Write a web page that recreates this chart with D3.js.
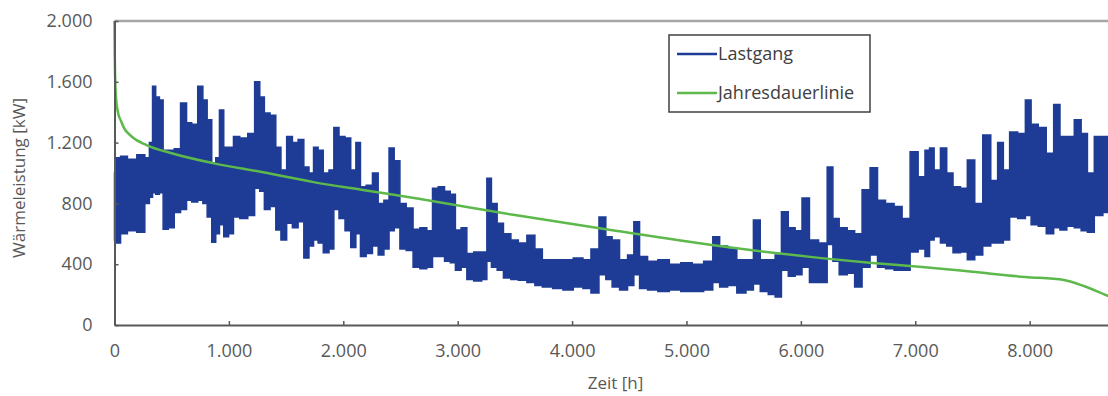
<!DOCTYPE html>
<meta charset="utf-8">
<script src="https://d3js.org/d3.v7.min.js"></script>
<style>
  body { margin: 0; background: #fff; }
  text { font-family: "Open Sans", sans-serif; fill: #595959; }
</style>
<div id="chart"></div>
<script>

// Lastgang: hour, upper and lower envelope (kW)
var lastHour = [0, 30, 76, 150, 240, 290, 320, 345, 375, 410, 440, 500, 545, 610, 650, 700, 755, 790, 830, 870,
  900, 935, 975, 1020, 1060, 1130, 1200, 1250, 1290, 1330, 1390, 1430, 1480, 1530, 1580, 1630, 1680, 1720, 1760, 1800,
  1850, 1900, 1935, 1990, 2040, 2090, 2130, 2170, 2230, 2280, 2330, 2380, 2420, 2470, 2520, 2580, 2640, 2700, 2760, 2800,
  2860, 2910, 2960, 3000, 3060, 3100, 3180, 3240, 3270, 3320, 3370, 3430, 3500, 3560, 3650, 3700, 3780, 3880, 3960, 4060,
  4130, 4200, 4270, 4320, 4380, 4450, 4520, 4560, 4620, 4700, 4800, 4900, 5000, 5100, 5200, 5260, 5320, 5400, 5480, 5560,
  5610, 5680, 5750, 5800, 5860, 5920, 5980, 6040, 6110, 6200, 6260, 6300, 6370, 6440, 6500, 6570, 6640, 6700, 6780, 6850,
  6920, 6990, 7060, 7110, 7140, 7190, 7250, 7300, 7360, 7430, 7480, 7560, 7620, 7700, 7740, 7800, 7850, 7940, 7985, 8040,
  8110, 8180, 8240, 8290, 8360, 8420, 8480, 8530, 8600, 8680, 8760];
var lastHigh = [1000, 1100, 1110, 1090, 1120, 1100, 1200, 1570, 1500, 1480, 1150, 1150, 1160, 1460, 1330, 1320, 1570, 1480, 1350, 1065,
  1100, 1415, 1170, 1170, 1240, 1230, 1260, 1600, 1500, 1395, 1380, 1170, 1020, 1240, 1200, 1220, 1040, 1000, 1170, 1150,
  1000, 1020, 1300, 1240, 1230, 1020, 1200, 910, 920, 1000, 800, 820, 1165, 1080, 800, 770, 630, 640, 620, 900,
  910, 880, 860, 625, 640, 470, 480, 480, 965, 800, 670, 600, 560, 540, 590, 500, 430, 430, 430, 440,
  430, 500, 710, 580, 560, 430, 460, 680, 450, 420, 430, 400, 410, 400, 420, 580, 520, 500, 430, 430,
  690, 430, 430, 460, 745, 640, 620, 835, 560, 540, 1040, 700, 640, 620, 600, 890, 1035, 820, 800, 780,
  700, 1140, 975, 1150, 1165, 1020, 1165, 1000, 910, 900, 1085, 800, 1250, 950, 1200, 1020, 1270, 1260, 1480, 1320,
  1300, 1130, 1450, 1240, 1240, 1350, 1260, 1000, 1240, 1240, 1200];
var lastLow = [560, 540, 600, 620, 610, 800, 840, 870, 860, 870, 630, 640, 740, 760, 820, 810, 820, 800, 710, 545,
  600, 660, 580, 600, 710, 700, 720, 900, 880, 760, 780, 625, 560, 670, 640, 680, 440, 520, 560, 540,
  475, 500, 760, 700, 620, 510, 600, 450, 470, 520, 460, 500, 620, 640, 500, 490, 380, 370, 380, 450,
  450, 420, 410, 360, 380, 300, 290, 300, 420, 380, 360, 310, 300, 295, 280, 260, 250, 240, 230, 250,
  240, 210, 330, 300, 250, 230, 260, 330, 240, 230, 220, 230, 220, 220, 230, 280, 250, 260, 210, 230,
  270, 220, 200, 185, 360, 320, 330, 380, 280, 280, 530, 420, 330, 340, 250, 380, 460, 380, 370, 360,
  360, 480, 500, 450, 560, 580, 540, 520, 475, 480, 430, 460, 520, 540, 540, 560, 710, 700, 720, 660,
  650, 600, 640, 625, 650, 640, 620, 610, 720, 740, 730];

// Jahresdauerlinie (sorted load duration curve)
var dauerHour = [0, 2, 6, 15, 30, 58, 80, 150, 280, 500, 860, 1300, 1740, 2200, 2660, 3500, 4380, 5220, 5700, 6180,
  6600, 7060, 7500, 7960, 8300, 8480, 8690, 8760];
var dauerValue = [2000, 1800, 1620, 1480, 1400, 1340, 1300, 1240, 1184, 1130, 1065, 1005, 940, 885, 830, 723, 620, 526, 480, 440,
  410, 382, 350, 316, 296, 255, 190, 170];

var xTicks = [0, 1000, 2000, 3000, 4000, 5000, 6000, 7000, 8000];
var xTickLabels = ["0", "1.000", "2.000", "3.000", "4.000", "5.000", "6.000", "7.000", "8.000"];
var yTicks = [0, 400, 800, 1200, 1600, 2000];
var yTickLabels = ["0", "400", "800", "1.200", "1.600", "2.000"];
var seriesNames = ["Lastgang", "Jahresdauerlinie"];
var seriesColors = ["#1e3c96", "#5db94b"];

var W = 1108, H = 396;
var mLeft = 114.5, mRight = 1116.6, mTop = 21, mBottom = 325;

var svg = d3.select("#chart").append("svg")
  .attr("width", W)
  .attr("height", H);

var x = d3.scaleLinear().domain([0, 8760]).range([mLeft, mRight]);
var y = d3.scaleLinear().domain([0, 2000]).range([mBottom, mTop]);

// top border of the plot area
svg.append("line")
  .attr("x1", mLeft).attr("x2", W)
  .attr("y1", y(2000)).attr("y2", y(2000))
  .attr("stroke", "#a6a6a6").attr("stroke-width", 2.5);

// Lastgang as envelope band (hourly values -> stepped band)
var last = lastHour.map(function(h, i) { return {h: h, hi: lastHigh[i], lo: lastLow[i]}; });
var band = d3.area()
  .x(function(d) { return x(d.h); })
  .y0(function(d) { return y(d.lo); })
  .y1(function(d) { return y(d.hi); })
  .curve(d3.curveStep);
svg.append("path")
  .datum(last)
  .attr("d", band)
  .attr("fill", seriesColors[0])
  .attr("stroke", seriesColors[0])
  .attr("stroke-width", 1.5)
  .attr("stroke-linejoin", "miter");

// Jahresdauerlinie
var dauer = dauerHour.map(function(h, i) { return {h: h, v: dauerValue[i]}; });
svg.append("path")
  .datum(dauer)
  .attr("d", d3.line()
    .x(function(d) { return x(d.h); })
    .y(function(d) { return y(d.v); })
    .curve(d3.curveMonotoneX))
  .attr("fill", "none")
  .attr("stroke", seriesColors[1])
  .attr("stroke-width", 2.5);

// axes
var xAxis = svg.append("g")
  .attr("transform", "translate(0," + mBottom + ")")
  .call(d3.axisBottom(x).tickValues(xTicks).tickSizeInner(-4).tickSizeOuter(0)
    .tickFormat(function(d, i) { return xTickLabels[i]; }));
xAxis.select(".domain").attr("stroke", "#595959").attr("stroke-width", 2);
xAxis.selectAll(".tick line").attr("stroke", "#595959").attr("stroke-width", 1.5);
xAxis.selectAll(".tick text").attr("y", 19).attr("dy", "0.71em")
  .style("font-size", "18px").style("font-family", "Open Sans").attr("fill", "#595959");

var yAxis = svg.append("g")
  .attr("transform", "translate(" + mLeft + ",0)")
  .call(d3.axisLeft(y).tickValues(yTicks).tickSizeInner(-4).tickSizeOuter(0)
    .tickFormat(function(d, i) { return yTickLabels[i]; }));
yAxis.select(".domain").attr("stroke", "#595959").attr("stroke-width", 2);
yAxis.selectAll(".tick line").attr("stroke", "#595959").attr("stroke-width", 1.5);
yAxis.selectAll(".tick text").attr("x", -22)
  .style("font-size", "18px").style("font-family", "Open Sans").attr("fill", "#595959");

// axis titles
svg.append("text")
  .attr("x", (mLeft + mRight) / 2)
  .attr("y", 389)
  .attr("text-anchor", "middle")
  .style("font-size", "17px")
  .text("Zeit [h]");

svg.append("text")
  .attr("transform", "translate(25," + ((mTop + mBottom) / 2 + 5) + ") rotate(-90)")
  .attr("text-anchor", "middle")
  .style("font-size", "17px")
  .text("Wärmeleistung  [kW]");

// legend
var lg = svg.append("g").attr("transform", "translate(669,35)");
lg.append("rect")
  .attr("width", 201).attr("height", 77)
  .attr("fill", "#fff")
  .attr("stroke", "#404040").attr("stroke-width", 1.5);
seriesNames.forEach(function(name, i) {
  var yy = 19 + i * 39;
  lg.append("line")
    .attr("x1", 8).attr("x2", 48)
    .attr("y1", yy).attr("y2", yy)
    .attr("stroke", seriesColors[i]).attr("stroke-width", 2.5);
  lg.append("text")
    .attr("x", 49).attr("y", yy)
    .attr("dy", "0.35em")
    .style("font-size", "18px")
    .style("fill", "#404040")
    .text(name);
});

</script>
